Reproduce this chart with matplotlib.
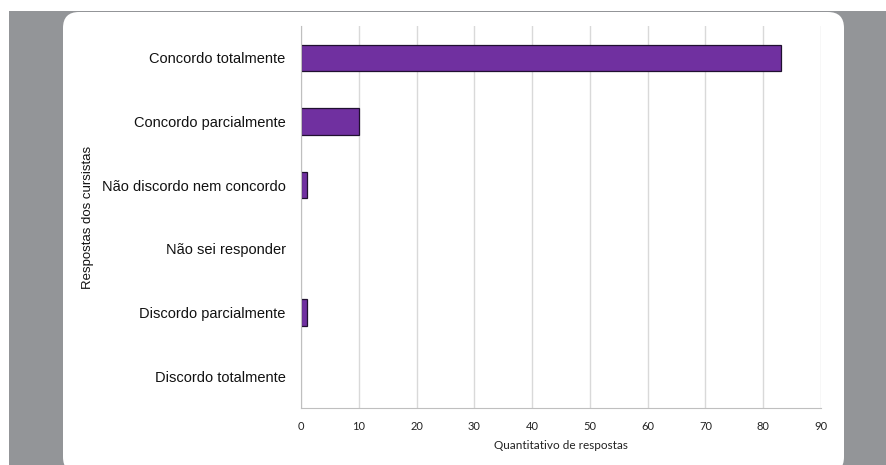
import matplotlib.pyplot as plt
from matplotlib.patches import Rectangle, FancyBboxPatch

categories = ['Concordo totalmente', 'Concordo parcialmente', 'Não discordo nem concordo',
              'Não sei responder', 'Discordo parcialmente', 'Discordo totalmente']
values = [83, 10, 1, 0, 1, 0]
xticks = list(range(0, 100, 10))

W, H = 887, 465
fig = plt.figure(figsize=(W / 100, H / 100), dpi=100)
fig.set_facecolor('white')

# fundo cinza e painel branco arredondado
fig.patches.append(Rectangle((9 / W, 0), 1 - 9 / W, 1 - 11 / H, transform=fig.transFigure,
                             facecolor='#939598', edgecolor='none', zorder=-10))
fig.patches.append(FancyBboxPatch((63 / W, -8 / H), (844 - 63) / W, (465 + 8 - 12) / H,
                                  boxstyle='round,pad=0,rounding_size=0.018',
                                  mutation_aspect=W / H,
                                  transform=fig.transFigure,
                                  facecolor='white', edgecolor='none', zorder=-9))

ax = fig.add_axes([301 / W, 1 - 408 / H, (821 - 301) / W, (408 - 26) / H])
ax.set_facecolor('none')

ypos = list(range(len(categories)))[::-1]
edges = ['#201030' if v > 0 else 'none' for v in values]
ax.barh(ypos, values, height=0.41, color='#7030A0', edgecolor=edges, linewidth=0.9, zorder=3)

ax.set_xlim(0, 90)
ax.set_ylim(-0.5, len(categories) - 0.5)
ax.set_xticks(xticks)
ax.set_xticklabels([str(t) for t in xticks], fontsize=8, family='Lato', color='#222222')
ax.set_yticks(ypos)
ax.set_yticklabels(categories, fontsize=10.5, family='Liberation Sans', color='#111111')
ax.tick_params(axis='both', length=0)
ax.tick_params(axis='y', pad=11)
ax.tick_params(axis='x', pad=9)

ax.grid(axis='x', color='#d9d9d9', linewidth=1, zorder=0)
for s in ['top', 'right']:
    ax.spines[s].set_visible(False)
ax.spines['left'].set_color('#bfbfbf')
ax.spines['bottom'].set_color('#bfbfbf')
ax.spines['left'].set_zorder(4)

ax.set_xlabel('Quantitativo de respostas', fontsize=8.5, family='Lato', color='#222222', labelpad=6)
fig.text(88 / W, 1 - 217 / H, 'Respostas dos cursistas', rotation=90, ha='center', va='center',
         fontsize=9.5, family='Liberation Sans', color='#111111')

fig.savefig('out.png', dpi=100)
